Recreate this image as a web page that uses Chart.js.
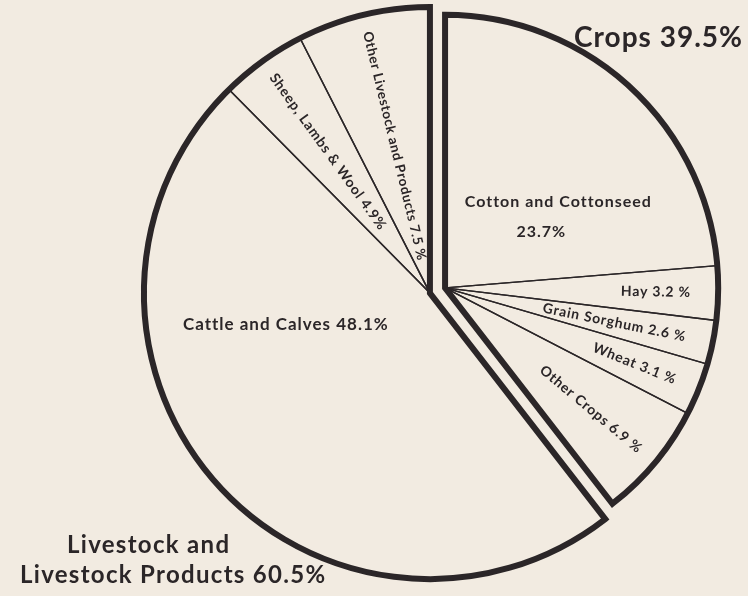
<!DOCTYPE html>
<html>
<head>
<meta charset="utf-8">
<script src="https://cdn.jsdelivr.net/npm/chart.js@4"></script>
<style>
  html, body { margin: 0; padding: 0; background: #f2ebe1; }
  #wrap { width: 748px; height: 596px; }
</style>
</head>
<body>
<div id="wrap"><canvas id="chart" width="748" height="596"></canvas></div>
<script>
const cropLabels = ["Cotton and Cottonseed", "Hay", "Grain Sorghum", "Wheat", "Other Crops"];
const cropValues = [23.7, 3.2, 2.6, 3.1, 6.9];
const livestockLabels = ["Cattle and Calves", "Sheep, Lambs & Wool", "Other Livestock and Products"];
const livestockValues = [48.1, 4.9, 7.5];
const cropTitle = ["Crops"];
const livestockTitle = ["Livestock and", "Livestock Products"];

const INK = "#2b2628";
const FONT = "Lato, 'DejaVu Sans', sans-serif";
const SHIFT = 8;

const labels = cropLabels.concat(livestockLabels);
const values = cropValues.concat(livestockValues);
const sum = arr => arr.reduce((a, b) => a + b, 0);

const groups = [
  { from: 0, to: cropValues.length, scale: 0.955 },
  { from: cropValues.length, to: values.length, scale: 1 }
];

// how each slice label sits: flat / reading outward / reading inward
const labelLayout = [
  { mode: "flat", at: 0.62, r: 0.52, size: 16, sp: 1, split: true, offsets: [[0, 0], [-17, 30]] },
  { mode: "out", r: 0.90, size: 14, sp: 0.8, pct: " %" },
  { mode: "out", r: 0.90, size: 14, sp: 0.8, pct: " %" },
  { mode: "out", r: 0.91, size: 14, sp: 0.8, pct: " %" },
  { mode: "out", r: 0.93, size: 14, sp: 0.8, pct: " %" },
  { mode: "flat", at: 0.666, r: 0.516, size: 17, sp: 1 },
  { mode: "in", r: 0.94, size: 14, sp: 0.8 },
  { mode: "in", r: 0.94, size: 13.5, sp: 0.6, pct: " %" }
];

function sliceText(i) {
  const L = labelLayout[i];
  const pct = values[i].toFixed(1) + (L.pct || "%");
  if (L.split) return [labels[i], pct];
  return [labels[i] + " " + pct];
}

function drawLabel(ctx, i, arc, cx, cy, R) {
  const L = labelLayout[i];
  const ang = arc.startAngle + (arc.endAngle - arc.startAngle) * (L.at ?? 0.5);
  const px = cx + Math.cos(ang) * R * L.r;
  const py = cy + Math.sin(ang) * R * L.r;
  ctx.save();
  ctx.fillStyle = INK;
  ctx.font = "700 " + L.size + "px " + FONT;
  ctx.letterSpacing = L.sp + "px";
  ctx.textBaseline = "middle";
  ctx.translate(px, py);
  if (L.mode === "out") {
    ctx.rotate(ang);
    ctx.textAlign = "right";
  } else if (L.mode === "in") {
    ctx.rotate(ang + Math.PI);
    ctx.textAlign = "left";
  } else {
    ctx.textAlign = "center";
  }
  sliceText(i).forEach((t, n) => {
    const off = (L.offsets && L.offsets[n]) || [0, 0];
    ctx.fillText(t, off[0], off[1]);
  });
  ctx.restore();
}

// draws each group pulled apart as one piece, with a heavy outline
const groupPie = {
  id: "groupPie",
  beforeDatasetDraw(chart, args) {
    const ctx = chart.ctx;
    const arcs = args.meta.data;
    groups.forEach(g => {
      const part = arcs.slice(g.from, g.to);
      const first = part[0], last = part[part.length - 1];
      const mid = (first.startAngle + last.endAngle) / 2;
      const cx = first.x + Math.cos(mid) * SHIFT;
      const cy = first.y + Math.sin(mid) * SHIFT;
      const R = first.outerRadius * g.scale;

      ctx.save();
      ctx.translate(cx, cy);
      ctx.scale(g.scale, g.scale);
      ctx.translate(-first.x, -first.y);
      part.forEach(a => a.draw(ctx));
      ctx.restore();

      ctx.save();
      ctx.beginPath();
      ctx.moveTo(cx, cy);
      ctx.arc(cx, cy, R, first.startAngle, last.endAngle);
      ctx.closePath();
      ctx.lineWidth = 6;
      ctx.lineJoin = "miter";
      ctx.strokeStyle = INK;
      ctx.stroke();
      ctx.restore();

      part.forEach((a, k) => drawLabel(ctx, g.from + k, a, cx, cy, R));
    });
    return false;
  },
  afterDraw(chart) {
    const ctx = chart.ctx;
    ctx.save();
    ctx.fillStyle = INK;
    ctx.textBaseline = "alphabetic";

    ctx.font = "700 28px " + FONT;
    ctx.letterSpacing = "1px";
    ctx.textAlign = "right";
    ctx.fillText(cropTitle[0] + " " + sum(cropValues).toFixed(1) + "%", 743, 47);

    ctx.font = "700 24px " + FONT;
    ctx.letterSpacing = "1.3px";
    ctx.textAlign = "left";
    ctx.fillText(livestockTitle[0], 67, 553);
    ctx.fillText(livestockTitle[1] + " " + sum(livestockValues).toFixed(1) + "%", 20, 583);
    ctx.restore();
  }
};

const ctx = document.getElementById("chart");
new Chart(ctx, {
  type: "pie",
  data: {
    labels: labels,
    datasets: [{
      data: values,
      backgroundColor: "rgba(0,0,0,0)",
      borderColor: INK,
      borderWidth: 1.5,
      clip: false
    }]
  },
  options: {
    responsive: false,
    animation: false,
    radius: 286,
    layout: { padding: { left: 127, right: 0, top: 0, bottom: 15 } },
    plugins: {
      legend: { display: false },
      tooltip: { enabled: false }
    }
  },
  plugins: [groupPie]
});
</script>
</body>
</html>
